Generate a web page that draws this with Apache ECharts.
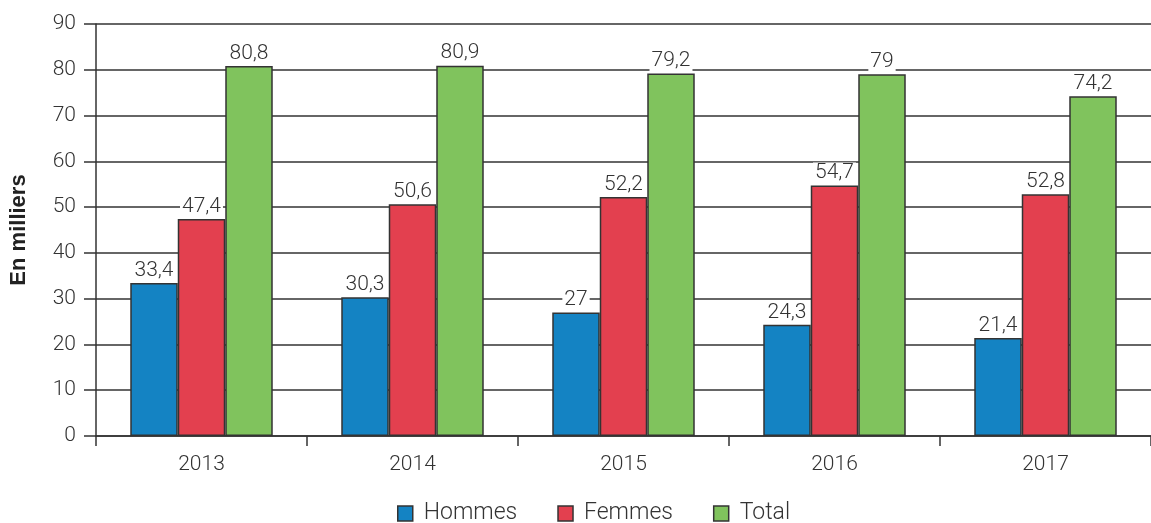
<!DOCTYPE html>
<html><head><meta charset="utf-8">
<script src="https://cdn.jsdelivr.net/npm/echarts@6/dist/echarts.min.js"></script>
<style>html,body{margin:0;padding:0;background:#fff}#c{width:1151px;height:523px}</style>
</head><body><div id="c"></div>
<script>
var categories = ['2013','2014','2015','2016','2017'];
var hommes = [33.4, 30.3, 27, 24.3, 21.4];
var femmes = [47.4, 50.6, 52.2, 54.7, 52.8];
var total = [80.8, 80.9, 79.2, 79, 74.2];
var seriesNames = ['Hommes','Femmes','Total'];
var colors = ['#1483c3','#e3404f','#80c35d'];
var FONT = 'Roboto';
function fmt(p){ return String(p.value).replace('.', ','); }
function mk(name, data, color){
  return {
    name: name, type: 'bar', data: data, barWidth: 47.5, barGap: '0%',
    itemStyle: {color: color, borderColor: '#333', borderWidth: 1.5},
    label: {show: true, position: 'top', distance: 2, formatter: fmt,
      color: '#333', fontFamily: FONT, fontWeight: 300, fontSize: 21,
      backgroundColor: '#fff', padding: [0, 2, 0, 2]}
  };
}
var chart = echarts.init(document.getElementById('c'));
chart.setOption({
  animation: false,
  color: colors,
  grid: {left: 95, top: 24, width: 1065, height: 412, containLabel: false},
  legend: {top: 502, left: 397, padding: 0, itemWidth: 15, itemHeight: 15, itemGap: 40,
    icon: 'rect', textStyle: {fontFamily: FONT, fontWeight: 300, fontSize: 23, color: '#333', padding: [0, 0, 0, 6]},
    itemStyle: {borderColor: '#333', borderWidth: 1.5}},
  xAxis: {type: 'category', data: categories,
    axisLine: {lineStyle: {color: '#333', width: 1.5}},
    axisTick: {show: true, length: 10, lineStyle: {color: '#333', width: 1.5}},
    axisLabel: {fontFamily: FONT, fontWeight: 300, fontSize: 21, color: '#333', margin: 18}},
  yAxis: {type: 'value', min: 0, max: 90, interval: 10,
    name: 'En milliers', nameLocation: 'middle', nameGap: 66,
    nameTextStyle: {fontFamily: 'Liberation Sans', fontWeight: 'bold', fontSize: 22, color: '#222'},
    axisLine: {show: true, lineStyle: {color: '#333', width: 1.5}},
    axisTick: {show: true, length: 12, lineStyle: {color: '#333', width: 1.5}},
    axisLabel: {fontFamily: FONT, fontWeight: 300, fontSize: 21, color: '#333', margin: 20},
    splitLine: {show: true, lineStyle: {color: '#333', width: 1.5}}},
  series: [mk(seriesNames[0], hommes, colors[0]), mk(seriesNames[1], femmes, colors[1]), mk(seriesNames[2], total, colors[2])]
});
</script></body></html>
